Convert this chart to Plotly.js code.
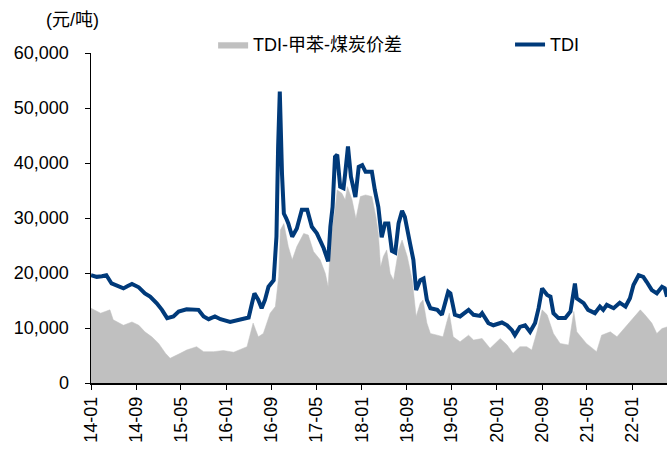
<!DOCTYPE html>
<html>
<head>
<meta charset="utf-8">
<script src="https://cdn.plot.ly/plotly-3.0.1.min.js"></script>
<style>
  html, body { margin: 0; padding: 0; background: #ffffff; }
  #chart { width: 667px; height: 450px; }
</style>
</head>
<body>
<div id="chart"></div>
<script>
// ---- Data ----
const seriesNames = ["TDI-甲苯-煤炭价差", "TDI"];
const yAxisUnit = "(元/吨)";

const tdiDates = [
  "2014-01-01","2014-02-01","2014-03-01","2014-03-25","2014-04-22","2014-05-25","2014-06-25","2014-07-16",
  "2014-08-10","2014-09-16","2014-10-19","2014-11-16","2014-12-22","2015-01-19","2015-02-16","2015-03-22",
  "2015-04-19","2015-06-01","2015-07-01","2015-08-04","2015-09-01","2015-09-28","2015-11-01","2015-12-01",
  "2016-01-22","2016-03-16","2016-05-01","2016-05-19","2016-06-01","2016-06-22","2016-07-10","2016-07-28",
  "2016-08-16","2016-09-13","2016-09-28","2016-10-07","2016-10-16","2016-10-28","2016-11-07","2016-11-19",
  "2016-12-01","2016-12-22","2017-01-16","2017-02-12","2017-03-13","2017-04-07","2017-05-04","2017-06-10",
  "2017-07-04","2017-07-16","2017-07-28","2017-08-10","2017-08-22","2017-09-07","2017-09-25","2017-10-04",
  "2017-10-19","2017-11-04","2017-11-28","2017-12-16","2018-01-04","2018-01-22","2018-02-25","2018-03-13",
  "2018-04-01","2018-04-19","2018-05-07","2018-05-25","2018-06-13","2018-07-01","2018-07-19","2018-08-07",
  "2018-08-22","2018-09-19","2018-10-07","2018-10-22","2018-11-13","2018-12-01","2018-12-19","2019-01-07",
  "2019-02-13","2019-03-10","2019-03-25","2019-04-13","2019-04-25","2019-05-19","2019-06-16","2019-08-01",
  "2019-08-28","2019-10-01","2019-10-13","2019-11-16","2019-12-13","2020-01-28","2020-02-25","2020-03-22",
  "2020-04-07","2020-05-04","2020-06-01","2020-06-28","2020-07-25","2020-08-13","2020-09-01","2020-09-28",
  "2020-10-16","2020-11-01","2020-11-28","2021-01-04","2021-02-01","2021-02-13","2021-02-25","2021-03-07",
  "2021-04-13","2021-05-07","2021-06-13","2021-07-10","2021-07-28","2021-08-16","2021-09-22","2021-10-25",
  "2021-11-25","2021-12-19","2022-01-07","2022-02-04","2022-03-01","2022-03-19","2022-04-16","2022-05-13",
  "2022-06-10","2022-06-25","2022-07-07"
];
const tdiValues = [
  19600,19300,19400,19600,18100,17600,17200,17600,
  18000,17400,16300,15700,14500,13300,11800,12100,
  13000,13400,13300,13300,12100,11600,12100,11600,
  11100,11600,11900,14500,16300,15100,13600,15100,
  17500,18700,26600,43000,53000,38000,30800,30000,
  29000,26600,28100,31500,31500,28400,27200,24500,
  22100,28400,32000,41100,41500,35700,35400,38100,
  43000,37500,33800,39300,39600,38400,38400,35100,
  32000,26500,29000,29000,24000,23700,29000,31300,
  30200,25400,22400,16900,18700,19000,15100,13600,
  13300,12400,14500,16600,16300,12400,12100,13300,
  12400,12200,12700,10900,10500,11000,10500,9600,
  8700,10200,10500,9300,10900,13600,17200,16000,
  15700,12700,11800,11800,13000,15700,18100,15400,
  14500,13300,12700,13900,13300,14200,13600,14600,
  13900,15400,17800,19600,19300,18400,16900,16300,
  17500,17200,15700
];

const spreadDates = [
  "2014-01-01","2014-02-22","2014-04-13","2014-05-01","2014-06-25","2014-08-10","2014-09-16","2014-10-19",
  "2014-11-25","2015-01-01","2015-02-07","2015-03-04","2015-04-28","2015-06-01","2015-07-25","2015-09-01",
  "2015-10-25","2015-12-16","2016-02-10","2016-04-22","2016-05-25","2016-06-22","2016-07-19","2016-08-25",
  "2016-09-22","2016-10-10","2016-10-19","2016-11-07","2016-12-01","2016-12-22","2017-01-16","2017-02-22",
  "2017-03-19","2017-04-16","2017-05-22","2017-06-19","2017-07-04","2017-07-19","2017-08-10","2017-08-22",
  "2017-09-16","2017-10-04","2017-10-16","2017-11-10","2017-12-01","2017-12-25","2018-01-22","2018-02-25",
  "2018-03-19","2018-04-01","2018-04-13","2018-04-28","2018-05-16","2018-06-04","2018-06-22","2018-07-19",
  "2018-08-07","2018-09-04","2018-10-01","2018-10-22","2018-11-13","2018-11-28","2018-12-19","2019-01-07",
  "2019-02-13","2019-03-16","2019-04-04","2019-04-19","2019-05-10","2019-06-16","2019-08-01","2019-08-28",
  "2019-10-13","2019-11-25","2020-01-19","2020-02-25","2020-03-28","2020-05-04","2020-06-10","2020-07-07",
  "2020-08-04","2020-09-01","2020-09-28","2020-11-01","2020-12-07","2021-01-22","2021-02-19","2021-03-07",
  "2021-04-28","2021-06-22","2021-07-19","2021-09-04","2021-10-10","2021-12-04","2022-01-25","2022-02-13",
  "2022-03-10","2022-04-16","2022-05-13","2022-06-10","2022-07-07"
];
const spreadValues = [
  13600,12700,13300,11500,10500,11100,10500,9300,
  8400,7200,5400,4500,5400,6000,6600,5700,
  5700,5900,5600,6600,10900,8400,9000,12700,
  13900,19300,27800,29000,24800,22400,24800,27200,
  26900,23900,22400,19900,17500,26600,31500,35100,
  34500,33300,35700,33300,29900,33900,34200,33900,
  30200,27200,21100,23000,24200,19900,18700,24200,
  26000,23000,18700,12100,14500,15100,10900,9000,
  8700,8400,10900,12700,8400,7500,8700,7800,
  8100,6300,8100,6900,5400,6600,6600,6000,
  9300,13300,12400,9000,7200,6900,13000,9300,
  7200,5700,8700,9300,8400,10500,12400,13300,
  12400,10900,9000,9900,10200
];

const xRange = ["2014-01-01", "2022-07-07"];
const yRange = [0, 60000];

const FONT = "'Liberation Sans', Arial, 'Noto Sans CJK SC', sans-serif";
const FS = 18;

const traces = [
  {
    x: spreadDates, y: spreadValues, name: seriesNames[0],
    type: "scatter", mode: "lines", fill: "tozeroy",
    fillcolor: "#c0c0c0", line: { color: "#c0c0c0", width: 0.5 },
    legend: "legend", hoverinfo: "skip"
  },
  {
    x: tdiDates, y: tdiValues, name: seriesNames[1],
    type: "scatter", mode: "lines",
    line: { color: "#003a7a", width: 4 },
    legend: "legend2"
  }
];

const legendCommon = {
  orientation: "h", xanchor: "left", y: 1.025, yanchor: "middle",
  font: { family: FONT, size: FS, color: "#000" },
  bgcolor: "rgba(0,0,0,0)"
};

const layout = {
  width: 667, height: 450,
  margin: { l: 91, r: 0, t: 53, b: 67 },
  paper_bgcolor: "#ffffff", plot_bgcolor: "#ffffff",
  font: { family: FONT, size: FS, color: "#000000" },
  showlegend: true,
  legend: Object.assign({}, legendCommon, { x: 0.212 }),
  legend2: Object.assign({}, legendCommon, { x: 0.7275 }),
  xaxis: {
    type: "date", range: xRange,
    tick0: "2014-01-01", dtick: "M8", tickformat: "%y-%m",
    tickangle: -90, ticks: "outside", ticklen: 5, tickwidth: 1, tickcolor: "#000",
    showline: true, linecolor: "#000", linewidth: 1.5,
    showgrid: false, zeroline: false,
    tickfont: { family: FONT, size: FS, color: "#000" }
  },
  yaxis: {
    range: yRange, dtick: 10000, tickformat: ",d",
    ticks: "outside", ticklen: 5, tickwidth: 1, tickcolor: "#000",
    ticklabelstandoff: 12,
    showline: true, linecolor: "#000", linewidth: 1.5,
    showgrid: false, zeroline: false,
    tickfont: { family: FONT, size: FS, color: "#000" }
  },
  annotations: [
    {
      text: yAxisUnit, xref: "paper", yref: "paper",
      x: -0.032, y: 1.1, xanchor: "center", yanchor: "middle",
      showarrow: false, font: { family: FONT, size: FS, color: "#000" }
    }
  ]
};

Plotly.newPlot("chart", traces, layout, { displayModeBar: false, staticPlot: true });
</script>
</body>
</html>
